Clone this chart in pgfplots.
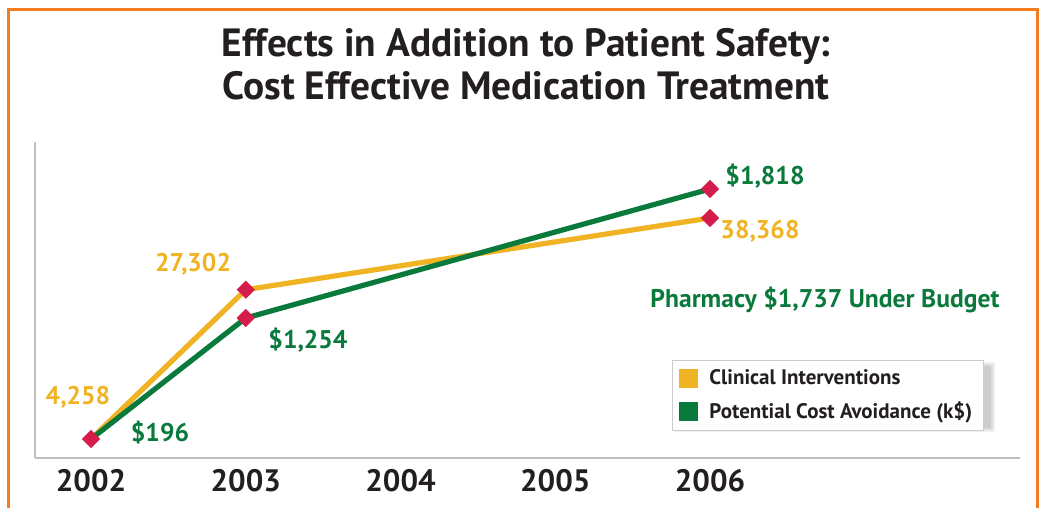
\documentclass[border=0pt]{standalone}
\usepackage{fontspec}
\setmainfont{PT Sans}
\usepackage{pgfplots}
\pgfplotsset{compat=1.18}
\definecolor{frameorange}{HTML}{F47B20}
\definecolor{ciGold}{HTML}{F0B323}
\definecolor{pcaGreen}{HTML}{0A7A3C}
\definecolor{mkRed}{HTML}{D51C4B}
\definecolor{txtDark}{HTML}{231F20}
\begin{document}
\begin{tikzpicture}[x=0.5pt,y=0.5pt]
\path[use as bounding box] (0,0) rectangle (1046,508);
\draw[frameorange, line width=1.5pt] (8,-10) -- (8,498) -- (1037,498) -- (1037,-10);
\node[anchor=base, text=txtDark, font=\fontsize{19.7}{22}\selectfont\bfseries, inner sep=0pt] at (526,451) {Effects in Addition to Patient Safety:};
\node[anchor=base, text=txtDark, font=\fontsize{19.7}{22}\selectfont\bfseries, inner sep=0pt] at (526,408) {Cost Effective Medication Treatment};
% soft shadow behind the legend box
\fill[black, opacity=0.06] (674,76) rectangle (995,146);
\fill[black, opacity=0.08] (676,78) rectangle (993,144);
\fill[black, opacity=0.08] (678,80) rectangle (991,142);
\begin{axis}[
  at={(17.5pt,25pt)}, anchor=south west,
  scale only axis, width=492.5pt, height=158pt,
  xmin=2001.638, xmax=2008.003, ymin=1326, ymax=50098,
  axis x line*=bottom, axis y line*=left,
  axis line style={-, draw=black!25, line width=0.75pt},
  ytick=\empty,
  xtick={2002,2003,2004,2005,2006},
  xticklabels={2002,2003,2004,2005,2006},
  major tick length=0pt,
  xticklabel style={font=\fontsize{15.5}{18}\selectfont\bfseries, text=txtDark, yshift=-2pt},
  clip=false,
  legend style={at={(0.6467,0.310)}, anchor=north west, draw=black!20, line width=0.5pt,
    fill=white, font=\fontsize{10.5}{12}\selectfont\bfseries, text=txtDark,
    inner xsep=3.5pt, inner ysep=2.5pt, row sep=3pt},
  legend cell align=left,
  legend image code/.code={\fill[#1, draw=none] (0pt,-4.75pt) rectangle (9.5pt,4.75pt);},
]
% Clinical Interventions (values)
\addplot[ciGold, line width=2.6pt] coordinates {(2002,4258) (2003,27302) (2006,38368)};
\addlegendentry{\hspace{3.5pt}Clinical Interventions}
% Potential Cost Avoidance (k$): plotted heights as drawn in the reference (196, 1254, 1818)
\addplot[pcaGreen, line width=2.6pt] coordinates {(2002,4258) (2003,22934) (2006,42844)};
\addlegendentry{\hspace{3.5pt}Potential Cost Avoidance (k\$)}
\addplot[only marks, mark=square*, mark size=3pt, mark options={rotate=45, fill=mkRed, draw=mkRed}, forget plot]
  coordinates {(2002,4258) (2003,27302) (2006,38368) (2003,22934) (2006,42844)};
\end{axis}
\tikzset{lab/.style={font=\fontsize{12.8}{15}\selectfont\bfseries, inner sep=0pt}}
\node[lab, text=ciGold] at (78,111) {4,258};
\node[lab, text=pcaGreen] at (160,75) {\$196};
\node[lab, text=ciGold] at (193,244) {27,302};
\node[lab, text=pcaGreen] at (308,168) {\$1,254};
\node[lab, text=pcaGreen] at (765,332) {\$1,818};
\node[lab, text=ciGold] at (760,277) {38,368};
\node[lab, text=pcaGreen] at (825,208) {Pharmacy \$1,737 Under Budget};
\end{tikzpicture}
\end{document}
